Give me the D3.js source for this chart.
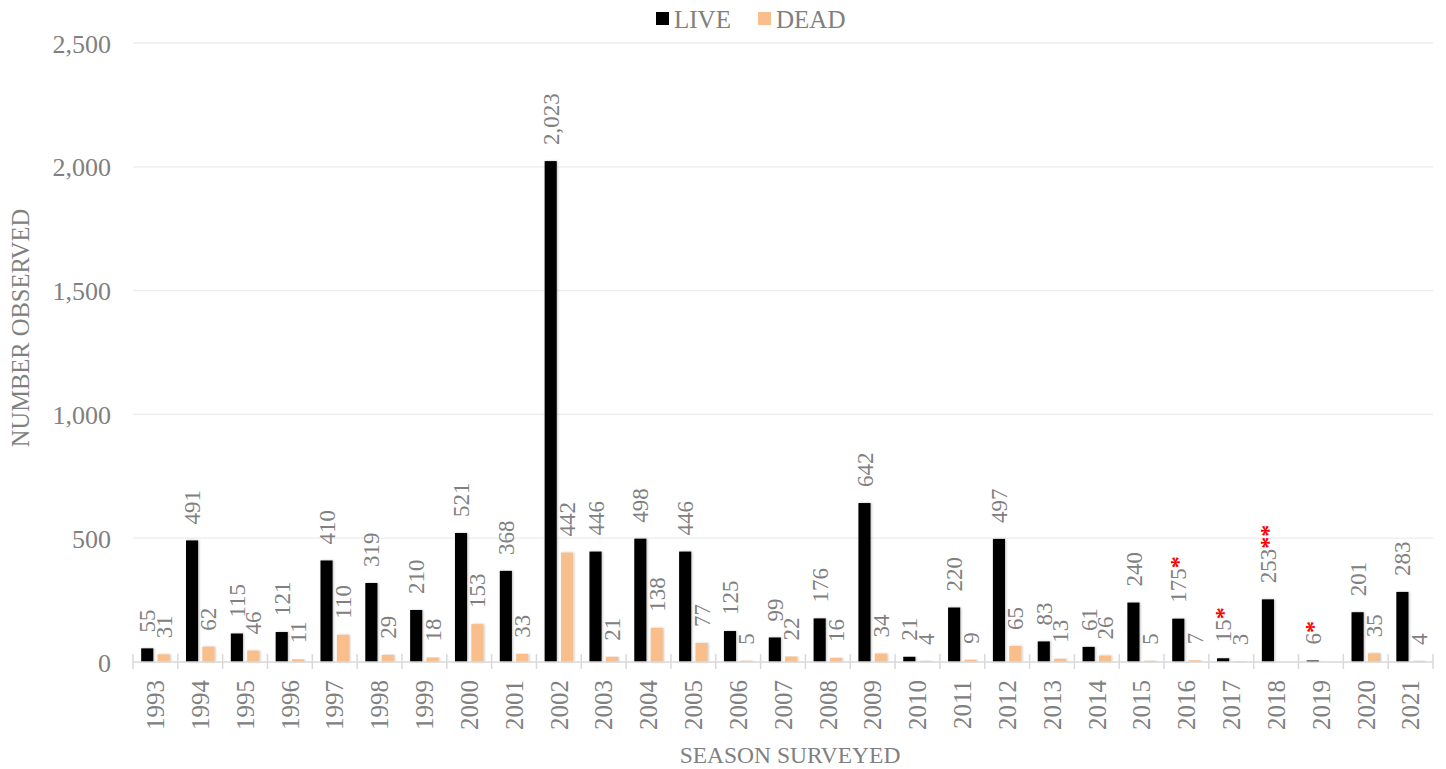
<!DOCTYPE html>
<html>
<head>
<meta charset="utf-8">
<script src="https://cdn.jsdelivr.net/npm/d3@7"></script>
<style>
  html, body { margin: 0; padding: 0; background: #fff; }
  svg { display: block; }
  text { font-family: "Liberation Serif", "DejaVu Serif", serif; }
</style>
</head>
<body>
<svg id="chart" width="1446" height="769"></svg>
<script>
const years = ["1993","1994","1995","1996","1997","1998","1999","2000","2001","2002","2003","2004","2005","2006","2007","2008","2009","2010","2011","2012","2013","2014","2015","2016","2017","2018","2019","2020","2021"];
const live = [55,491,115,121,410,319,210,521,368,2023,446,498,446,125,99,176,642,21,220,497,83,61,240,175,15,253,6,201,283];
const dead = [31,62,46,11,110,29,18,153,33,442,21,138,77,5,22,16,34,4,9,65,13,26,5,7,3,null,null,35,4];
const liveNotes = ["","","","","","","","","","","","","","","","","","","","","","","","*","*","**","*","",""];
const yTicks = [0,500,1000,1500,2000,2500];
const seriesNames = ["LIVE","DEAD"];
const seriesColors = ["#000000","#F8BE8C"];

const svg = d3.select("#chart");
const margin = {left: 133, right: 13, top: 43, bottom: 107};
const W = 1446, H = 769;
const x0 = margin.left, x1 = W - margin.right;
const yBase = H - margin.bottom;

const x = d3.scaleBand().domain(years).range([x0, x1]).paddingInner(0).paddingOuter(0);
const inner = d3.scaleBand().domain(seriesNames).range([0, x.bandwidth()]).paddingInner(0.26).paddingOuter(0.5);
const y = d3.scaleLinear().domain([0, 2500]).range([yBase, margin.top]);

const gray = "#808080";

const defs = svg.append("defs");
const f = defs.append("filter").attr("id","sh").attr("x","-30%").attr("y","-10%").attr("width","160%").attr("height","120%");
f.append("feDropShadow").attr("dx",1).attr("dy",0).attr("stdDeviation",0.8).attr("flood-color","#000").attr("flood-opacity",0.25);

// gridlines
svg.append("g").selectAll("line").data(yTicks.filter(d => d > 0)).join("line")
  .attr("x1", x0).attr("x2", x1)
  .attr("y1", d => y(d)).attr("y2", d => y(d))
  .attr("stroke", "#ececec").attr("stroke-width", 1.3);

// y axis labels
const yAxis = d3.axisLeft(y).tickValues(yTicks).tickFormat(d3.format(",")).tickSize(0).tickPadding(0);
const gy = svg.append("g").attr("transform", `translate(${x0 - 22},0)`).call(yAxis);
gy.select(".domain").remove();
gy.selectAll("text").attr("fill", gray).style("font-size", "26px").style("font-family", '"Liberation Serif", serif').attr("dy", "0.35em");

// bars
const groups = svg.append("g").selectAll("g").data(years).join("g")
  .attr("transform", d => `translate(${x(d)},0)`);

groups.append("rect")
  .attr("x", inner("LIVE")).attr("width", inner.bandwidth())
  .attr("y", (d,i) => y(live[i])).attr("height", (d,i) => yBase - y(live[i]))
  .attr("fill", seriesColors[0]).attr("filter","url(#sh)");

groups.filter((d,i) => dead[i] !== null).append("rect")
  .attr("x", inner("DEAD")).attr("width", inner.bandwidth())
  .attr("y", d => y(dead[years.indexOf(d)])).attr("height", d => yBase - y(dead[years.indexOf(d)]))
  .attr("fill", seriesColors[1]).attr("filter","url(#sh)");

// data labels
const labelGap = 16;
function addLabel(sel, key, vals, notes) {
  sel.each(function(d, i) {
    const v = vals[i];
    if (v === null) return;
    const cx = inner(key) + inner.bandwidth() / 2;
    const ty = y(v) - labelGap;
    const t = d3.select(this).append("text")
      .attr("transform", `translate(${cx},${ty}) rotate(-90)`)
      .attr("dy", "0.35em")
      .attr("text-anchor", "start")
      .style("font-size", "23px")
      .attr("fill", gray);
    t.append("tspan").text(d3.format(",")(v));
    if (notes && notes[i]) {
      t.append("tspan").text(notes[i]).attr("fill", "#ff0000").style("font-weight", "bold").style("font-size","24px");
    }
  });
}
addLabel(groups, "LIVE", live, liveNotes);
addLabel(groups, "DEAD", dead, null);

// x axis line & ticks
svg.append("line").attr("x1", x0).attr("x2", x1).attr("y1", yBase).attr("y2", yBase)
  .attr("stroke", "#d9d9d9").attr("stroke-width", 1.5);
const bounds = years.map(d => x(d)).concat([x1]);
svg.append("g").selectAll("line").data(bounds).join("line")
  .attr("x1", d => d).attr("x2", d => d).attr("y1", yBase - 8).attr("y2", yBase + 7)
  .attr("stroke", "#d9d9d9").attr("stroke-width", 1.5);

// x tick labels
svg.append("g").selectAll("text").data(years).join("text")
  .attr("transform", d => `translate(${x(d) + x.bandwidth()/2},${yBase + 18}) rotate(-90)`)
  .attr("text-anchor", "end").attr("dy", "0.35em")
  .style("font-size", "25px").attr("fill", gray)
  .text(d => d);

// axis titles
svg.append("text").attr("transform", `translate(20,328) rotate(-90)`)
  .attr("text-anchor", "middle").attr("dy", "0.35em")
  .style("font-size", "24.5px").attr("fill", gray).text("NUMBER OBSERVED");
svg.append("text").attr("x", 790).attr("y", 763)
  .attr("text-anchor", "middle")
  .style("font-size", "23.5px").attr("fill", gray).text("SEASON SURVEYED");

// legend
const legend = svg.append("g");
const legendX = [656, 758];
seriesNames.forEach((s, i) => {
  legend.append("rect").attr("x", legendX[i]).attr("y", 12).attr("width", 13).attr("height", 13).attr("fill", seriesColors[i]);
  legend.append("text").attr("x", legendX[i] + 18).attr("y", 19).attr("dy", "0.35em")
    .style("font-size", "25px").attr("fill", gray).text(s);
});
</script>
</body>
</html>
